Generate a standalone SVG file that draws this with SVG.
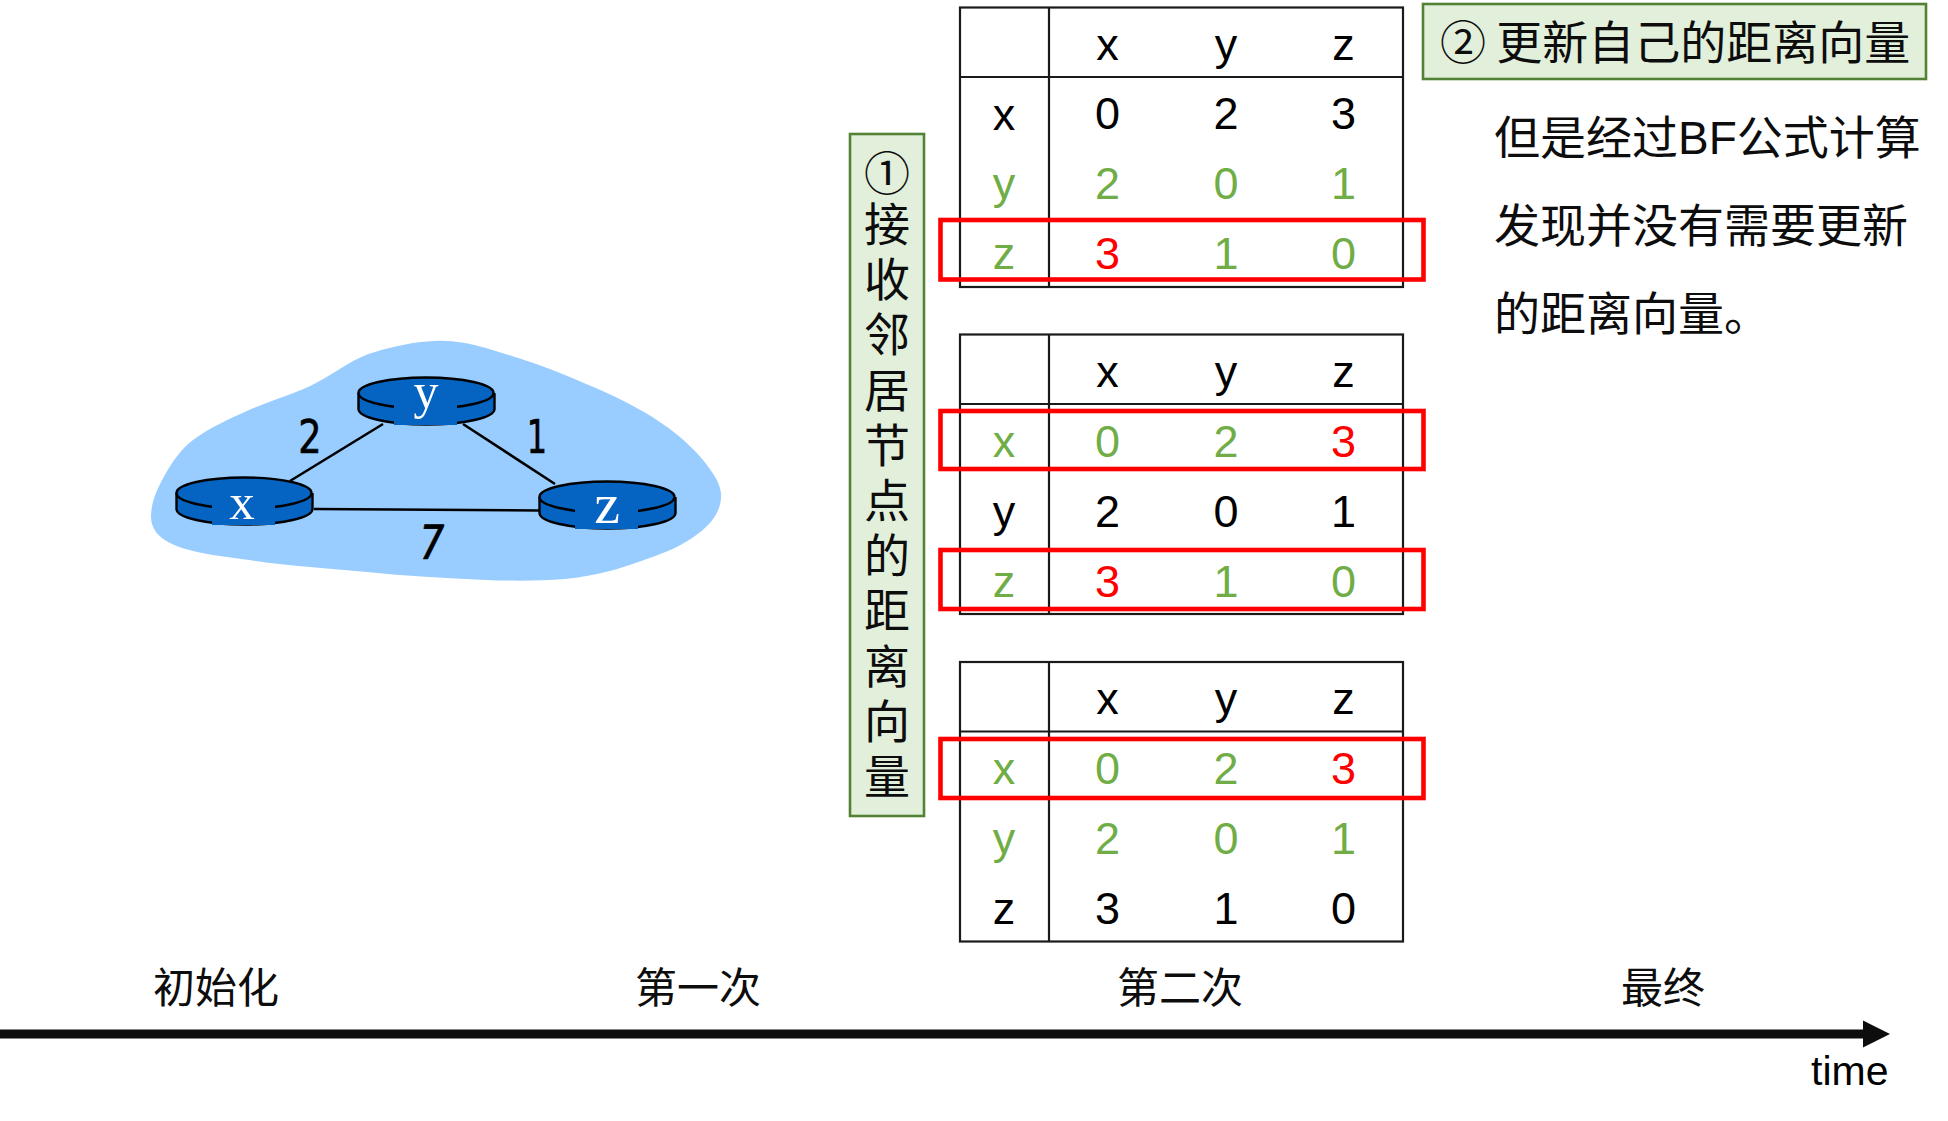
<svg xmlns="http://www.w3.org/2000/svg" width="1948" height="1121" viewBox="0 0 1948 1121">
<style>
  text { font-family: "Liberation Sans", "Noto Sans CJK SC", sans-serif; fill: #000; }
  .cjk { font-family: "Noto Sans CJK SC", "Liberation Sans", sans-serif; font-size: 46px; fill: #0d0d0d; }
  .mid { text-anchor: middle; }
  .latin { font-family: "Liberation Sans", sans-serif; }
  .axis { font-size: 42px; }
  .upright { writing-mode: vertical-rl; letter-spacing: 9.2px; }
  .cell { font-size: 45px; text-anchor: middle; }
  .g { fill: #70ad47; }
  .r { fill: #ff0000; }
  .frame { fill: none; stroke: #1a1a1a; stroke-width: 2.2; }
  .hl { fill: none; stroke: #ff0000; stroke-width: 4.6; }
  .note { fill: #e2efda; stroke: #548235; stroke-width: 2.6; }
  .link { stroke: #000; stroke-width: 2.6; fill: none; }
  .body { fill: #0563c1; stroke: #000; stroke-width: 2.4; }
  .plate { fill: #0563c1; stroke: none; }
  .rname { font-family: "Liberation Serif", serif; fill: #fff; text-anchor: middle; }
  .cost { font-family: "DejaVu Sans", sans-serif; font-size: 47px; text-anchor: middle; fill: #000; stroke: #000; stroke-width: 0.7; }
</style>
<defs>
  <g id="table-frame">
    <rect class="frame" x="960" y="7.5" width="443" height="279.5"/>
    <path class="frame" d="M1049 7.5V287M960 77H1403"/>
  </g>
  <g id="router-shape">
    <path class="body" d="M-67.5 0V16A67.5 15.5 0 0 0 68.5 16V0"/>
    <ellipse class="body" cx="0" cy="0" rx="67.5" ry="15.5"/>
    <rect class="plate" x="-32" y="9" width="63" height="23"/>
  </g>
  <marker id="head" markerUnits="userSpaceOnUse" markerWidth="28" markerHeight="28" refX="0" refY="14" orient="auto">
    <path d="M0 0.5L27 14L0 27.5Z" fill="#0d0d0d"/>
  </marker>
</defs>

<rect width="1948" height="1121" fill="#fff"/>

<path id="network-cloud" fill="#99ccff" d="M434 341C452 340 468 343 486 348C512 356 538 364 565 375C594 387 620 398 644 412C668 426 688 442 703 460C714 474 722 485 721 498C720 512 712 523 699 533C684 545 665 553 644 560C620 569 595 576 565 579C540 581 513 581 486 580C445 578 405 576 367 572C327 568 287 566 249 560C220 556 190 553 170 543C158 537 151 528 151 517C151 501 158 487 166 473C173 461 181 449 193 440C209 428 229 419 249 410C272 400 295 394 316 383C337 372 355 357 375 352C394 346 414 342 434 341Z"/>

<g id="links">
  <path class="link" d="M383 424L290 481"/>
  <path class="link" d="M463 424L555 484"/>
  <path class="link" d="M314 509L539 510.5"/>
</g>

<g id="router-y">
  <use href="#router-shape" x="426" y="393"/>
  <text class="rname" x="426" y="408" font-size="50">y</text>
</g>
<g id="router-x">
  <use href="#router-shape" x="244" y="493"/>
  <text class="rname" x="242" y="519" font-size="51">x</text>
</g>
<g id="router-z">
  <use href="#router-shape" x="607" y="497"/>
  <text class="rname" x="607" y="523" font-size="58">z</text>
</g>

<g id="link-costs">
  <text class="cost" transform="translate(310 453) scale(0.78 1)">2</text>
  <text class="cost" transform="translate(537 453) scale(0.68 1)">1</text>
  <text class="cost" transform="translate(429 559) skewX(-9) scale(0.88 1)">7</text>
</g>

<g id="step-one">
  <rect class="note" x="850" y="134" width="74" height="682"/>
  <text class="cjk upright" x="887" y="150">①<tspan dy="-4.5">接收邻居节点的距离向量</tspan></text>
</g>

<g id="table-top">
  <use href="#table-frame"/>
  <text class="cell" x="1107.5" y="60">x</text><text class="cell" x="1226" y="60">y</text><text class="cell" x="1343.5" y="60">z</text>
  <text class="cell" x="1004" y="130">x</text><text class="cell" x="1107.5" y="129">0</text><text class="cell" x="1226" y="129">2</text><text class="cell" x="1343.5" y="129">3</text>
  <text class="cell g" x="1004" y="199">y</text><text class="cell g" x="1107.5" y="199">2</text><text class="cell g" x="1226" y="199">0</text><text class="cell g" x="1343.5" y="199">1</text>
  <text class="cell g" x="1004" y="269">z</text><text class="cell r" x="1107.5" y="269">3</text><text class="cell g" x="1226" y="269">1</text><text class="cell g" x="1343.5" y="269">0</text>
</g>

<g id="table-middle">
  <use href="#table-frame" y="327"/>
  <text class="cell" x="1107.5" y="387">x</text><text class="cell" x="1226" y="387">y</text><text class="cell" x="1343.5" y="387">z</text>
  <text class="cell g" x="1004" y="457">x</text><text class="cell g" x="1107.5" y="457">0</text><text class="cell g" x="1226" y="457">2</text><text class="cell r" x="1343.5" y="457">3</text>
  <text class="cell" x="1004" y="527">y</text><text class="cell" x="1107.5" y="527">2</text><text class="cell" x="1226" y="527">0</text><text class="cell" x="1343.5" y="527">1</text>
  <text class="cell g" x="1004" y="597">z</text><text class="cell r" x="1107.5" y="597">3</text><text class="cell g" x="1226" y="597">1</text><text class="cell g" x="1343.5" y="597">0</text>
</g>

<g id="table-bottom">
  <use href="#table-frame" y="654.5"/>
  <text class="cell" x="1107.5" y="714">x</text><text class="cell" x="1226" y="714">y</text><text class="cell" x="1343.5" y="714">z</text>
  <text class="cell g" x="1004" y="784">x</text><text class="cell g" x="1107.5" y="784">0</text><text class="cell g" x="1226" y="784">2</text><text class="cell r" x="1343.5" y="784">3</text>
  <text class="cell g" x="1004" y="853.5">y</text><text class="cell g" x="1107.5" y="853.5">2</text><text class="cell g" x="1226" y="853.5">0</text><text class="cell g" x="1343.5" y="853.5">1</text>
  <text class="cell" x="1004" y="923.5">z</text><text class="cell" x="1107.5" y="923.5">3</text><text class="cell" x="1226" y="923.5">1</text><text class="cell" x="1343.5" y="923.5">0</text>
</g>

<g id="highlights">
  <rect class="hl" x="940.5" y="220" width="483" height="59.5"/>
  <rect class="hl" x="940.5" y="411" width="483" height="58"/>
  <rect class="hl" x="940.5" y="550" width="483" height="59"/>
  <rect class="hl" x="940.5" y="739" width="483" height="59"/>
</g>

<g id="step-two">
  <rect class="note" x="1423" y="4" width="503" height="75"/>
  <text class="cjk" x="1440" y="59">② 更新自己的距离向量</text>
</g>

<g id="result-note">
  <text class="cjk" x="1494" y="154">但是经过<tspan class="latin">BF</tspan>公式计算</text>
  <text class="cjk" x="1494" y="242">发现并没有需要更新</text>
  <text class="cjk" x="1494" y="330">的距离向量。</text>
</g>

<g id="timeline">
  <path d="M0 1034H1863" stroke="#0d0d0d" stroke-width="9" fill="none" marker-end="url(#head)"/>
  <text class="cjk axis mid" x="216" y="1003">初始化</text>
  <text class="cjk axis mid" x="698" y="1003">第一次</text>
  <text class="cjk axis mid" x="1180" y="1003">第二次</text>
  <text class="cjk axis mid" x="1663" y="1003">最终</text>
  <text x="1811" y="1085" font-size="41">time</text>
</g>
</svg>
